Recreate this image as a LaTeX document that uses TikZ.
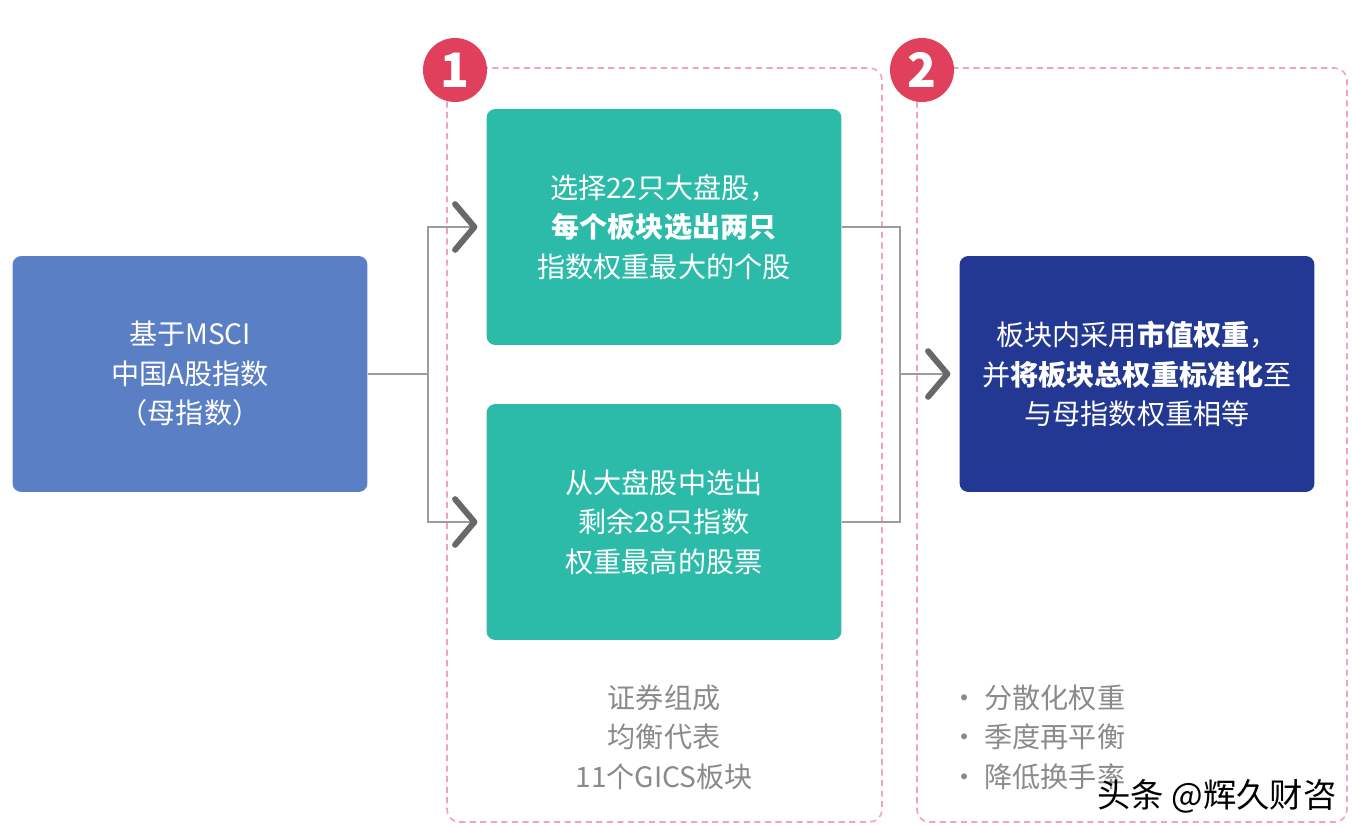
\documentclass[tikz,border=0pt]{standalone}
\usepackage{fontspec}
\setmainfont{Noto Sans CJK SC}
\usetikzlibrary{arrows.meta}

\definecolor{msciblue}{HTML}{5B7FC5}
\definecolor{tealbox}{HTML}{2DBBA9}
\definecolor{navybox}{HTML}{233892}
\definecolor{framepink}{HTML}{F3A3B5}
\definecolor{stepred}{HTML}{E0405B}
\definecolor{linkgray}{HTML}{9C9C9C}
\definecolor{tipgray}{HTML}{686868}
\definecolor{notegray}{HTML}{8A8A8A}

\begin{document}
\begin{tikzpicture}[x=0.02cm, y=-0.02cm,
    box/.style={rectangle, rounded corners=5pt, minimum width=7.1cm, minimum height=4.72cm,
      text=white, align=center, font=\fontsize{16}{22.5}\selectfont},
    frame/.style={draw=framepink, line width=0.9pt, dash pattern=on 3.5pt off 2.5pt, rounded corners=7pt},
    stepdot/.style={circle, fill=stepred, minimum size=1.28cm, inner sep=0pt, text=white,
      font=\fontsize{27}{27}\bfseries\selectfont},
    link/.style={draw=linkgray, line width=1.1pt},
    tip/.style={-{Straight Barb[length=11pt, width=26pt, line width=3.4pt, round, color=tipgray]}, shorten >=5pt},
    note/.style={text=notegray, font=\fontsize{16}{22.5}\selectfont}]
  \useasboundingbox (0,0) rectangle (1352,825);

  % dashed groups
  \draw[frame] (447,68) rectangle (882,822);
  \draw[frame] (917,68) rectangle (1347,822);
  \node[stepdot] (s1) at (455,70) {1};
  \node[stepdot] (s2) at (922,70) {2};

  % boxes
  \node[box, fill=msciblue] (msci) at (190,374) {基于MSCI\\中国A股指数\\（母指数）};
  \node[box, fill=tealbox] (pick) at (664,227) {选择22只大盘股，\\\textbf{每个板块选出两只}\\指数权重最大的个股};
  \node[box, fill=tealbox] (rest) at (664,522) {从大盘股中选出\\剩余28只指数\\权重最高的股票};
  \node[box, fill=navybox] (weight) at (1137,374) {板块内采用\textbf{市值权重}，\\并\textbf{将板块总权重标准化}至\\与母指数权重相等};

  % connectors
  \coordinate (jl) at (428,374);
  \coordinate (jr) at (900,374);
  \draw[link] (msci.east) -- (jl);
  \draw[link, tip] (jl) |- (pick.west);
  \draw[link, tip] (jl) |- (rest.west);
  \draw[link] (pick.east) -| (jr);
  \draw[link] (rest.east) -| (jr);
  \draw[link, tip] (jr) -- (weight.west);

  % notes
  \node[note, align=center] (comp) at (664,737) {证券组成\\均衡代表\\11个GICS板块};
  \node[note, align=left, anchor=west] (feat) at (944,737) {• 分散化权重\\• 季度再平衡\\• 降低换手率};

  \node[font=\fontsize{19}{19}\selectfont] (mark) at (1217,796) {头条 @辉久财咨};
\end{tikzpicture}
\end{document}
